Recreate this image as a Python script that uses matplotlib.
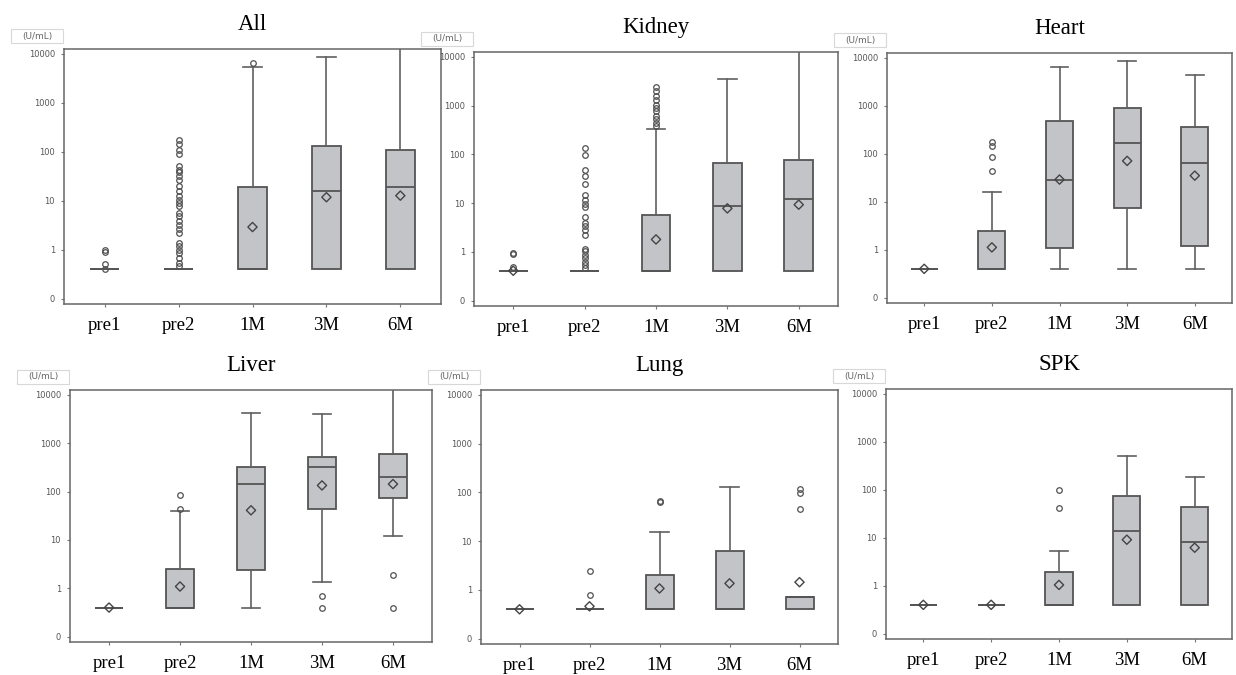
import matplotlib
matplotlib.use('Agg')
import matplotlib.pyplot as plt
from matplotlib.patches import Rectangle

CATEGORIES = ['pre1', 'pre2', '1M', '3M', '6M']
Y_TICKS = [0.1, 1, 10, 100, 1000, 10000]
Y_TICK_LABELS = ['0', '1', '10', '100', '1000', '10000']
PANEL_TITLES = ['All', 'Kidney', 'Heart', 'Liver', 'Lung', 'SPK']
UNIT_LABEL = '(U/mL)'

# ---- All ----
ALL_Q1 = [0.4, 0.4, 0.4, 0.4, 0.4]
ALL_MED = [0.4, 0.4, 0.4, 15.8, 19.2]
ALL_Q3 = [0.4, 0.4, 18.8, 134, 107]
ALL_LO = [0.4, 0.4, 0.4, 0.4, 0.4]
ALL_HI = [0.4, 0.4, 5400, 8690, 20000]
ALL_MEAN = [None, None, 2.9, 11.8, 12.7]
ALL_FLIERS = [
    [0.97, 0.9, 0.5, 0.4],
    [172, 147, 107, 92, 50.6, 43, 38, 31.6, 27, 19.8, 15.6, 12.3, 10.5, 9.0, 7.7,
     5.6, 4.8, 3.8, 3.25, 2.6, 2.2, 1.37, 1.17, 1.0, 0.86, 0.68, 0.54, 0.46],
    [6550], [], []]

# ---- Kidney ----
KID_Q1 = [0.4, 0.4, 0.4, 0.4, 0.4]
KID_MED = [0.4, 0.4, 0.4, 8.9, 12.0]
KID_Q3 = [0.4, 0.4, 5.8, 68, 78.5]
KID_LO = [0.4, 0.4, 0.4, 0.4, 0.4]
KID_HI = [0.4, 0.4, 333, 3440, 20000]
KID_MEAN = [0.41, None, 1.8, 7.8, 9.3]
KID_FLIERS = [
    [0.95, 0.9, 0.5],
    [136, 96, 47.5, 36, 25, 15, 11.6, 9.5, 8.3, 5.2, 4.0, 3.4, 2.8, 2.2, 1.14,
     1.02, 0.87, 0.74, 0.63, 0.54, 0.47],
    [2400, 1960, 1590, 1290, 1040, 890, 760, 620, 530, 440, 380],
    [], []]

# ---- Heart ----
HEA_Q1 = [0.4, 0.4, 1.09, 7.4, 1.18]
HEA_MED = [0.4, 0.4, 29, 171, 65]
HEA_Q3 = [0.4, 2.4, 493, 906, 363]
HEA_LO = [0.4, 0.4, 0.4, 0.4, 0.4]
HEA_HI = [0.4, 16, 6380, 8520, 4280]
HEA_MEAN = [0.4, 1.12, 29, 71, 35]
HEA_FLIERS = [[], [177, 146, 86, 43], [], [], []]

# ---- Liver ----
LIV_Q1 = [0.4, 0.4, 2.44, 43, 73]
LIV_MED = [0.4, 0.4, 146, 322, 200]
LIV_Q3 = [0.4, 2.56, 327, 519, 590]
LIV_LO = [0.4, 0.4, 0.4, 1.32, 12]
LIV_HI = [0.4, 39, 4230, 4100, 20000]
LIV_MEAN = [0.4, 1.09, 41, 134, 143]
LIV_FLIERS = [[], [85, 43], [], [0.69, 0.4], [1.87, 0.4]]

# ---- Lung ----
LUN_Q1 = [0.4, 0.4, 0.4, 0.4, 0.4]
LUN_MED = [0.4, 0.4, 0.4, 0.4, 0.71]
LUN_Q3 = [0.4, 0.4, 2.04, 6.4, 0.71]
LUN_LO = [0.4, 0.4, 0.4, 0.4, 0.4]
LUN_HI = [0.4, 0.4, 15.2, 130, 0.71]
LUN_MEAN = [0.4, 0.46, 1.07, 1.36, 1.44]
LUN_FLIERS = [[], [2.4, 0.8], [66, 63], [], [118, 98, 46.6]]

# ---- SPK ----
SPK_Q1 = [0.4, 0.4, 0.4, 0.4, 0.4]
SPK_MED = [0.4, 0.4, 0.4, 13.7, 8.2]
SPK_Q3 = [0.4, 0.4, 1.9, 74, 44.6]
SPK_LO = [0.4, 0.4, 0.4, 0.4, 0.4]
SPK_HI = [0.4, 0.4, 5.2, 500, 184]
SPK_MEAN = [0.4, 0.4, 1.04, 9.1, 6.2]
SPK_FLIERS = [[], [], [98.6, 41], [], []]

PANELS = [
    (ALL_Q1, ALL_MED, ALL_Q3, ALL_LO, ALL_HI, ALL_MEAN, ALL_FLIERS),
    (KID_Q1, KID_MED, KID_Q3, KID_LO, KID_HI, KID_MEAN, KID_FLIERS),
    (HEA_Q1, HEA_MED, HEA_Q3, HEA_LO, HEA_HI, HEA_MEAN, HEA_FLIERS),
    (LIV_Q1, LIV_MED, LIV_Q3, LIV_LO, LIV_HI, LIV_MEAN, LIV_FLIERS),
    (LUN_Q1, LUN_MED, LUN_Q3, LUN_LO, LUN_HI, LUN_MEAN, LUN_FLIERS),
    (SPK_Q1, SPK_MED, SPK_Q3, SPK_LO, SPK_HI, SPK_MEAN, SPK_FLIERS),
]

# axes rectangles in pixels (left, top, right, bottom)
RECTS = [(64, 49, 441, 304), (474, 52, 838, 306), (887, 53, 1232, 303),
         (70, 390, 432, 642), (481, 390, 838, 644), (886, 389, 1232, 639)]

W, H = 1236, 675
fig = plt.figure(figsize=(W / 100, H / 100), dpi=100)
fig.patch.set_facecolor('white')

SERIF = ['Liberation Serif', 'DejaVu Serif']
EDGE = '#555555'
FACE = '#c3c4c8'

for title, stats_src, rect in zip(PANEL_TITLES, PANELS, RECTS):
    l, t, r, b = rect
    ax = fig.add_axes([l / W, 1 - b / H, (r - l) / W, (b - t) / H])
    q1, med, q3, lo, hi, mean, fliers = stats_src
    stats = []
    for i in range(len(CATEGORIES)):
        stats.append(dict(q1=q1[i], med=med[i], q3=q3[i], whislo=lo[i],
                          whishi=hi[i], fliers=fliers[i], label=CATEGORIES[i]))
    ax.bxp(stats, positions=range(len(CATEGORIES)), widths=0.4,
           patch_artist=True, showmeans=False,
           boxprops=dict(facecolor=FACE, edgecolor=EDGE, linewidth=1.3),
           medianprops=dict(color=EDGE, linewidth=1.3),
           whiskerprops=dict(color='#606060', linewidth=1.2),
           capprops=dict(color='#606060', linewidth=1.2),
           capwidths=0.26,
           flierprops=dict(marker='o', markersize=4.0, markerfacecolor='none',
                           markeredgecolor='#505050', markeredgewidth=0.9))
    mx = [i for i, m in enumerate(mean) if m is not None]
    my = [m for m in mean if m is not None]
    ax.scatter(mx, my, marker='D', s=22, facecolors='none', edgecolors='#444444',
               linewidths=1.0, zorder=5)

    ax.set_yscale('log')
    ax.set_ylim(10 ** -1.11, 10 ** 4.1)
    ax.set_xlim(-0.55, len(CATEGORIES) - 0.45)
    ax.set_yticks(Y_TICKS)
    ax.set_yticklabels(Y_TICK_LABELS)
    ax.yaxis.set_minor_locator(matplotlib.ticker.NullLocator())
    ax.tick_params(axis='y', labelsize=6, labelcolor='#555555', length=2.5,
                   width=0.8, color='#777777', pad=4)
    ax.set_xticks(range(len(CATEGORIES)))
    ax.set_xticklabels(CATEGORIES, fontfamily=SERIF, fontsize=13.5)
    ax.tick_params(axis='x', length=2.5, width=0.8, color='#777777', pad=7)
    for s in ax.spines.values():
        s.set_color('#666666')
        s.set_linewidth(1.1)
    ax.set_title(title, fontfamily=SERIF, fontsize=16.5, pad=14)
    cx, cy = l - 27, t - 13
    fig.patches.append(Rectangle(((cx - 26) / W, 1 - (cy + 7) / H), 52 / W, 14 / H,
                                 transform=fig.transFigure, facecolor='white',
                                 edgecolor='#d8d8d8', linewidth=0.8))
    fig.text(cx / W, 1 - cy / H, UNIT_LABEL, ha='center', va='center',
             fontsize=6.5, color='#666666')

fig.savefig('out.png', dpi=100, facecolor='white')
